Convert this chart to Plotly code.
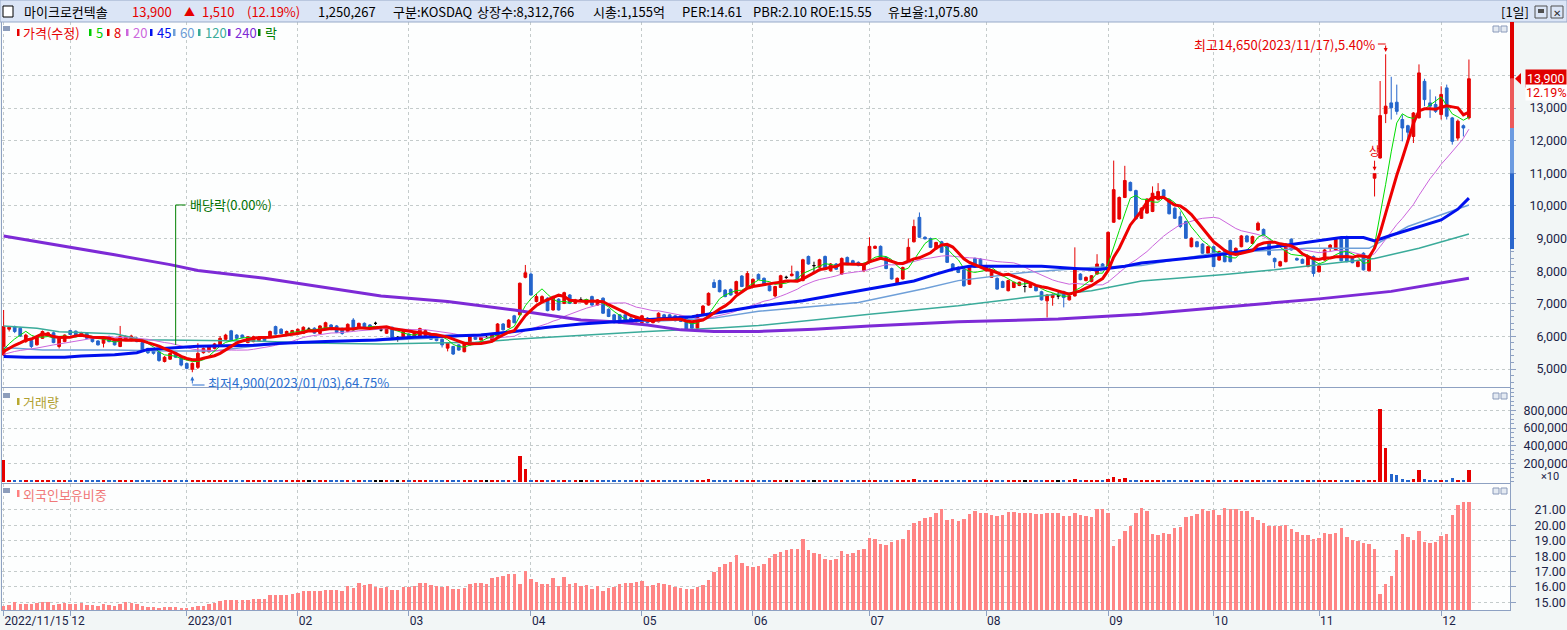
import pandas as pd
import plotly.graph_objects as go

W, H = 1567, 630
FONT = "Noto Sans CJK KR"
AXFONT = "Roboto"

# KRX trading days shown on the chart (holidays removed)
holidays = ["2022-12-30", "2023-01-23", "2023-01-24", "2023-03-01", "2023-05-01",
            "2023-05-05", "2023-05-29", "2023-06-06", "2023-08-15", "2023-09-28",
            "2023-09-29", "2023-10-02", "2023-10-03", "2023-10-09"]
days = [d for d in pd.bdate_range("2022-11-15", "2023-12-08")
        if d.strftime("%Y-%m-%d") not in holidays]

opens = [5430, 6220, 6300, 6250, 5840, 5870, 5740, 5940, 6040, 6110,
         5690, 5840, 6180, 6160, 6040, 6090, 5990, 5860, 5790, 5990,
         5890, 5690, 5890, 5870, 5940, 5810, 5630, 5610, 5530, 5230,
         5300, 5500, 5360, 5170, 4990, 5050, 5500, 5530, 5630, 5700,
         5910, 6170, 6040, 6040, 5810, 5840, 5870, 5990, 5990, 6300,
         6220, 6040, 6070, 6100, 6090, 6220, 6250, 6090, 6250, 6350,
         6320, 6250, 6150, 6500, 6280, 6400, 6350, 6400, 6200, 6095,
         6280, 5970, 5910, 6070, 6010, 6010, 6030, 6070, 5970, 5910,
         5640, 5690, 5740, 5530, 5740, 6010, 5890, 5970, 5890, 6010,
         6380, 6280, 6630, 6660, 7810, 7910, 7070, 7070, 7170, 6810,
         7140, 7010, 7270, 7010, 7120, 6990, 7220, 6960, 7170, 6830,
         6660, 6660, 6660, 6560, 6450, 6420, 6560, 6420, 6450, 6660,
         6660, 6630, 6630, 6560, 6420, 6250, 6660, 6960, 7650, 7710,
         7420, 7440, 7320, 7850, 7480, 7550, 7900, 7780, 7550, 7240,
         7500, 7810, 7860, 7980, 7710, 8450, 8170, 8120, 8450, 8010,
         8220, 7910, 8420, 8320, 8270, 8010, 8270, 8700, 8760, 8420,
         8080, 7600, 7760, 8320, 8900, 9650, 9040, 9000, 8680, 8900,
         8780, 8220, 8120, 8040, 7600, 8390, 8370, 8010, 7810, 7780,
         7680, 7400, 7500, 7560, 7530, 7500, 7530, 7370, 7090, 7190,
         7240, 7370, 7120, 7240, 7910, 7710, 7680, 7910, 8220, 8060,
         9500, 9600, 10260, 10720, 10470, 9620, 9780, 9830, 10190, 10490,
         10190, 9930, 9670, 9520, 8750, 8900, 8830, 8550, 8750, 8340,
         8600, 8940, 8550, 8750, 9080, 8850, 9260, 9280, 8900, 8390,
         8160, 8290, 8980, 8390, 8360, 8140, 8450, 7980, 8340, 8700,
         8650, 9010, 9060, 8390, 8140, 8550, 8010, 10850, 11470, 12830,
         13160, 13180, 12650, 12460, 12130, 12700, 13820, 13160, 13110, 12800,
         13620, 12700, 12080, 12460, 12700]

highs = [6810, 6300, 6330, 6290, 6080, 5900, 6020, 6180, 6140, 6150,
         5960, 6060, 6200, 6180, 6140, 6120, 6010, 5880, 6000, 6020,
         5920, 6320, 6030, 6050, 5980, 5830, 5650, 5630, 5550, 5400,
         5500, 5530, 5380, 5200, 5200, 5790, 5660, 5730, 5800, 6010,
         6080, 6200, 6070, 6060, 6010, 6020, 6000, 6010, 6180, 6330,
         6250, 6180, 6200, 6240, 6310, 6280, 6280, 6350, 6450, 6380,
         6350, 6270, 6400, 6560, 6420, 6430, 6380, 6450, 6260, 6280,
         6300, 6010, 6170, 6100, 6150, 6270, 6210, 6100, 6000, 5940,
         5810, 5710, 5760, 5810, 6070, 6040, 5990, 6010, 6060, 6410,
         6410, 6530, 6660, 7650, 8190, 7960, 7300, 7260, 7200, 7250,
         7170, 7370, 7300, 7150, 7200, 7140, 7250, 7140, 7200, 6860,
         6690, 6680, 6690, 6590, 6590, 6660, 6590, 6530, 6740, 6690,
         6690, 6660, 6650, 6590, 6440, 6690, 6960, 7350, 7750, 7740,
         7450, 7470, 7710, 7880, 8000, 7780, 7930, 7810, 7580, 7550,
         7890, 7860, 8170, 8010, 8380, 8480, 8290, 8380, 8480, 8250,
         8250, 8420, 8450, 8350, 8300, 8260, 9040, 8790, 8790, 8450,
         8110, 7810, 8140, 9000, 9580, 9800, 9070, 9030, 8900, 8930,
         8810, 8250, 8150, 8070, 8150, 8420, 8400, 8190, 8030, 7810,
         7710, 7740, 7680, 7680, 7710, 7630, 7560, 7400, 7300, 7320,
         7400, 7400, 7260, 8730, 7940, 7840, 7880, 8520, 8250, 9220,
         11390, 10290, 11230, 10750, 10500, 9960, 10240, 10600, 10700, 10520,
         10220, 9960, 9830, 9550, 9040, 8930, 8860, 8780, 8780, 8630,
         8630, 8970, 8730, 9110, 9110, 9090, 9520, 9310, 8930, 8420,
         8320, 8860, 9010, 8420, 8390, 8480, 8480, 8190, 8680, 8830,
         9010, 9060, 9090, 8420, 8320, 8580, 8500, 10990, 13830, 14650,
         13960, 13720, 12800, 12490, 12880, 14340, 13900, 13570, 13360, 13670,
         13720, 12730, 12650, 12500, 14490]

lows = [5400, 6150, 6100, 5980, 5800, 5640, 5720, 5920, 6020, 5790,
        5630, 5820, 6040, 6000, 6010, 5920, 5810, 5720, 5660, 5820,
        5720, 5670, 5870, 5850, 5820, 5540, 5460, 5440, 5220, 5200,
        5280, 5340, 5080, 4990, 4900, 5000, 5470, 5500, 5600, 5680,
        5890, 5870, 5920, 5940, 5790, 5820, 5850, 5850, 5970, 6050,
        6070, 6020, 6050, 6080, 6070, 6180, 6080, 6070, 6230, 6190,
        6100, 6050, 6130, 6180, 6260, 6250, 6220, 6350, 6150, 6080,
        5950, 5840, 5890, 5950, 5990, 5990, 6010, 5890, 5850, 5660,
        5540, 5430, 5560, 5510, 5720, 5890, 5870, 5930, 5870, 5990,
        6180, 6260, 6400, 6640, 7780, 7250, 7040, 7050, 6770, 6790,
        6790, 6990, 6990, 6990, 7080, 6970, 6940, 6940, 6690, 6590,
        6400, 6380, 6480, 6380, 6430, 6400, 6400, 6400, 6430, 6480,
        6480, 6460, 6440, 6180, 6230, 6230, 6640, 6940, 7480, 7350,
        7200, 7250, 7300, 7510, 7460, 7530, 7730, 7540, 7380, 7190,
        7480, 7760, 7840, 7690, 7690, 8200, 7960, 8100, 8040, 7990,
        8040, 7890, 8200, 8200, 8150, 7970, 8250, 8680, 8400, 8060,
        7740, 7580, 7740, 8300, 8880, 9020, 8970, 8710, 8660, 8560,
        8250, 8040, 7940, 7530, 7580, 8100, 8150, 7990, 7790, 7430,
        7480, 7380, 7480, 7540, 7350, 7480, 7380, 7100, 6580, 6940,
        7140, 6890, 7100, 7220, 7720, 7690, 7660, 7890, 8040, 8040,
        9480, 9580, 10240, 10450, 9580, 9600, 9760, 9810, 10170, 10270,
        9740, 9600, 9320, 8990, 8730, 8730, 8530, 8530, 8120, 8320,
        8270, 8270, 8530, 8730, 8880, 8830, 9240, 9090, 8480, 8090,
        8140, 8270, 8630, 8320, 8220, 8120, 7830, 7960, 8320, 8600,
        8630, 8300, 8270, 8240, 8120, 8020, 7990, 10290, 11450, 12540,
        12650, 12800, 11980, 11980, 11930, 12680, 13060, 12700, 12850, 12650,
        12650, 11880, 12000, 12130, 12650]

closes = [6300, 6280, 6150, 6010, 6040, 5690, 5990, 6150, 6110, 5810,
          5940, 6040, 6060, 6030, 6110, 5940, 5840, 5740, 5960, 5840,
          5740, 5990, 5990, 6010, 5840, 5560, 5500, 5480, 5260, 5360,
          5480, 5360, 5120, 5020, 5170, 5480, 5630, 5700, 5770, 5940,
          6040, 5890, 5940, 5960, 5990, 5990, 5970, 5870, 6150, 6070,
          6090, 6150, 6180, 6220, 6280, 6220, 6100, 6320, 6420, 6220,
          6120, 6090, 6370, 6200, 6400, 6270, 6250, 6400, 6200, 6250,
          5970, 5970, 6150, 5970, 6120, 6240, 6180, 5910, 5870, 5740,
          5790, 5460, 5580, 5790, 6040, 5910, 5970, 5970, 6040, 6380,
          6200, 6500, 6420, 7630, 7950, 7270, 7220, 7220, 6790, 7220,
          6810, 7340, 7010, 7120, 7120, 7120, 6960, 7120, 6710, 6610,
          6420, 6400, 6500, 6400, 6560, 6630, 6420, 6500, 6710, 6500,
          6500, 6480, 6460, 6220, 6250, 6660, 6930, 7320, 7500, 7370,
          7220, 7270, 7680, 7530, 7930, 7750, 7750, 7560, 7400, 7530,
          7860, 7810, 7910, 7710, 8350, 8220, 8170, 8350, 8060, 8220,
          8060, 8390, 8220, 8220, 8170, 8220, 8760, 8760, 8420, 8080,
          7760, 7780, 8110, 8730, 9370, 9040, 8990, 8730, 8880, 8580,
          8270, 8060, 7960, 7550, 8120, 8120, 8170, 8170, 8010, 7450,
          7500, 7710, 7660, 7660, 7530, 7600, 7400, 7120, 7270, 7290,
          7240, 7190, 7240, 8060, 7740, 7810, 7860, 8220, 8060, 9190,
          10500, 10260, 10780, 10470, 9600, 9930, 10210, 10390, 10440, 10290,
          9760, 9620, 9370, 9010, 9010, 8750, 8550, 8750, 8140, 8600,
          8290, 8290, 8700, 9080, 8900, 9060, 9470, 9110, 8500, 8290,
          8290, 8830, 8650, 8340, 8240, 8450, 7930, 8160, 8650, 8800,
          8980, 8320, 8290, 8260, 8290, 8040, 8460, 10990, 12770, 13060,
          13010, 12900, 12390, 12260, 12850, 14080, 13260, 13060, 12900, 13420,
          12750, 11980, 12600, 12390, 13900]

# closes before 2022/11/15, only used to start the short moving averages
prior_closes = [5300, 5350, 5400, 5380, 5420, 5450, 5400, 5380, 5350, 5400,
                5420, 5450, 5480, 5430, 5400, 5380, 5420, 5450, 5430]

# long moving averages (day index, value)
ma45_at = [0, 4, 11, 14, 20, 24, 26, 30, 35, 45, 50, 58, 67, 74, 86, 92, 98, 104, 110,
           116, 124, 128, 134, 136, 144, 152, 159, 164, 168, 171, 174, 187, 193, 197,
           202, 205, 217, 229, 235, 241, 245, 247, 250, 253, 259, 262, 264]
ma45 = [5380, 5360, 5360, 5400, 5440, 5500, 5600, 5650, 5700, 5730, 5790, 5840, 5890,
        5970, 6040, 6150, 6280, 6380, 6450, 6520, 6600, 6710, 6860, 6930, 7090, 7330,
        7550, 7700, 7910, 8060, 8150, 8150, 8080, 8040, 8150, 8250, 8460, 8750, 8900,
        9030, 9030, 8930, 9100, 9260, 9570, 9900, 10240]
ma60_at = [0, 7, 20, 30, 38, 45, 52, 60, 68, 80, 89, 95, 104, 110, 119, 128, 136, 154,
           166, 172, 184, 196, 205, 218, 235, 246, 253, 264]
ma60 = [5660, 5580, 5580, 5550, 5550, 5700, 5800, 5850, 5870, 5970, 6100, 6220, 6380,
        6450, 6480, 6560, 6770, 7040, 7470, 7710, 7960, 8110, 8170, 8550, 8700, 8700,
        9370, 10030]
ma120_at = [0, 6, 10, 20, 25, 35, 45, 55, 68, 75, 85, 92, 104, 116, 128, 136, 146, 156,
            172, 184, 196, 205, 220, 229, 247, 255, 264]
ma120 = [6320, 6250, 6140, 6080, 5900, 5880, 5860, 5800, 5770, 5790, 5820, 5910, 6040,
         6150, 6250, 6330, 6500, 6680, 6940, 7190, 7400, 7700, 7900, 8040, 8390, 8700,
         9140]
ma240_at = [0, 10, 20, 30, 35, 47, 59, 68, 80, 92, 104, 110, 116, 122, 128, 136, 146,
            156, 172, 190, 205, 220, 237, 250, 260, 264]
ma240 = [9080, 8800, 8500, 8200, 8020, 7780, 7470, 7240, 7070, 6810, 6500, 6450, 6350,
         6200, 6150, 6150, 6220, 6320, 6450, 6530, 6680, 6900, 7150, 7380, 7650, 7780]

# volume, axis is in units of 10 shares
volume = [247000, 14000, 12000, 9000, 8000, 9000, 8000, 10000, 7000, 9000,
          9000, 8000, 7000, 7000, 6000, 7000, 8000, 7000, 9000, 7000,
          7000, 16000, 8000, 7000, 6000, 9000, 8000, 7000, 10000, 8000,
          7000, 8000, 9000, 8000, 11000, 14000, 9000, 8000, 7000, 9000,
          9000, 8000, 6000, 6000, 7000, 6000, 6000, 6000, 8000, 9000,
          7000, 6000, 6000, 7000, 8000, 6000, 6000, 8000, 9000, 7000,
          7000, 6000, 8000, 9000, 7000, 6000, 6000, 6000, 6000, 7000,
          8000, 6000, 7000, 6000, 6000, 8000, 6000, 7000, 7000, 8000,
          8000, 9000, 7000, 8000, 11000, 7000, 6000, 6000, 7000, 12000,
          9000, 11000, 9000, 281000, 135000, 22000, 12000, 9000, 12000, 10000,
          9000, 11000, 8000, 7000, 6000, 6000, 8000, 7000, 10000, 9000,
          9000, 8000, 7000, 7000, 6000, 7000, 7000, 6000, 8000, 7000,
          6000, 6000, 6000, 9000, 8000, 14000, 18000, 24000, 20000, 13000,
          10000, 9000, 14000, 12000, 15000, 10000, 9000, 8000, 8000, 9000,
          11000, 8000, 10000, 8000, 14000, 10000, 8000, 9000, 10000, 8000,
          7000, 11000, 8000, 7000, 6000, 7000, 16000, 9000, 9000, 10000,
          11000, 8000, 10000, 17000, 24000, 22000, 10000, 9000, 8000, 9000,
          11000, 8000, 7000, 12000, 11000, 8000, 7000, 7000, 7000, 11000,
          8000, 9000, 7000, 6000, 6000, 6000, 7000, 9000, 12000, 8000,
          6000, 8000, 6000, 30000, 12000, 8000, 7000, 15000, 10000, 28000,
          52000, 24000, 34000, 22000, 20000, 12000, 12000, 14000, 11000, 9000,
          10000, 9000, 9000, 11000, 9000, 7000, 8000, 7000, 11000, 9000,
          8000, 10000, 8000, 12000, 8000, 8000, 14000, 9000, 10000, 9000,
          7000, 12000, 9000, 7000, 6000, 8000, 12000, 7000, 10000, 8000,
          10000, 11000, 10000, 6000, 6000, 9000, 12000, 16000, 817000, 374000,
          86000, 75000, 30000, 19000, 26000, 124000, 30000, 19000, 8000, 19000,
          19000, 41000, 19000, 12000, 125027]

foreign = [14.79, 14.83, 15.00, 14.90, 14.90, 14.90, 14.94, 15.00, 15.00, 14.83,
           14.90, 14.94, 14.90, 14.90, 14.94, 14.83, 14.83, 14.79, 14.87, 14.83,
           14.77, 14.90, 15.00, 14.94, 14.90, 14.77, 14.70, 14.70, 14.64, 14.70,
           14.70, 14.70, 14.64, 14.64, 14.68, 14.77, 14.77, 14.87, 14.94, 15.09,
           15.16, 15.16, 15.16, 15.16, 15.16, 15.22, 15.22, 15.22, 15.48, 15.48,
           15.48, 15.48, 15.55, 15.59, 15.74, 15.74, 15.74, 15.74, 15.78, 15.81,
           15.78, 15.74, 16.07, 15.96, 16.24, 16.13, 16.17, 15.98, 15.94, 15.98,
           15.81, 15.81, 15.98, 16.02, 16.07, 16.24, 16.24, 16.13, 16.07, 16.02,
           16.07, 15.87, 15.87, 15.96, 16.17, 16.24, 16.24, 16.17, 16.58, 16.67,
           16.74, 16.82, 16.82, 16.17, 17.04, 16.52, 16.30, 16.17, 16.17, 16.56,
           16.07, 16.63, 16.17, 16.24, 16.07, 16.13, 15.87, 16.09, 15.74, 15.91,
           15.98, 16.17, 16.24, 16.24, 16.33, 16.39, 16.07, 16.13, 16.24, 16.17,
           16.13, 16.02, 15.91, 15.87, 15.87, 15.98, 16.13, 16.46, 16.97, 17.28,
           17.49, 17.62, 18.06, 17.56, 17.36, 17.30, 17.36, 17.49, 17.88, 18.14,
           18.27, 18.38, 18.47, 18.47, 19.10, 18.38, 18.21, 18.14, 17.82, 17.75,
           17.82, 18.34, 18.14, 18.21, 18.40, 18.47, 19.18, 19.12, 18.79, 18.73,
           18.92, 19.05, 19.12, 19.70, 20.14, 20.29, 20.48, 20.55, 20.81, 21.07,
           20.35, 20.42, 20.29, 20.42, 20.74, 20.94, 20.81, 20.81, 20.68, 20.61,
           20.68, 20.87, 20.87, 20.81, 20.81, 20.81, 20.74, 20.74, 20.81, 20.81,
           20.81, 20.61, 20.61, 20.81, 20.68, 20.61, 20.55, 21.07, 21.07, 20.81,
           18.66, 19.12, 19.64, 19.96, 20.81, 21.13, 20.94, 19.44, 19.38, 19.51,
           19.44, 19.83, 19.90, 20.55, 20.61, 20.74, 21.07, 20.94, 21.00, 20.68,
           21.13, 21.07, 21.07, 20.94, 20.94, 20.55, 20.35, 20.16, 19.96, 19.96,
           19.96, 20.03, 19.77, 19.57, 19.38, 19.38, 19.12, 19.18, 19.51, 19.44,
           19.51, 19.83, 19.25, 19.05, 18.99, 18.86, 18.79, 18.47, 15.55, 16.19,
           16.71, 18.40, 19.44, 19.22, 19.05, 19.64, 18.94, 18.87, 18.94, 19.31,
           19.44, 20.68, 21.32, 21.52, 21.52]

n = len(days)
assert all(len(a) == n for a in (opens, highs, lows, closes, volume, foreign)), n
idx = list(range(n))

# month ticks for the x axis
month_ticks, month_labels = [], []
for i, d in enumerate(days):
    if i == 0:
        month_ticks.append(i)
        month_labels.append(d.strftime("%Y/%m/%d"))
    elif d.month != days[i - 1].month:
        month_ticks.append(i)
        month_labels.append(d.strftime("%Y/%m") if d.month == 1 else d.strftime("%m"))

UP, DOWN, FLAT = "#e60000", "#2465cc", "#000000"
GRID = "#c4cbcb"
FRAME = "#8ea1c2"
NAVY = "#1b2347"


def px(x):
    return x / W


def py(y):
    return 1 - y / H


def candles(ids, color):
    return go.Candlestick(
        x=ids, open=[opens[i] for i in ids], high=[highs[i] for i in ids],
        low=[lows[i] for i in ids], close=[closes[i] for i in ids],
        increasing=dict(line=dict(color=color, width=1), fillcolor=color),
        decreasing=dict(line=dict(color=color, width=1), fillcolor=color),
        whiskerwidth=0, showlegend=False, hoverinfo="skip", xaxis="x", yaxis="y")


up = [i for i in idx if closes[i] > opens[i]]
down = [i for i in idx if closes[i] < opens[i]]
flat = [i for i in idx if closes[i] == opens[i]]

fig = go.Figure()
fig.add_trace(candles(up, UP))
fig.add_trace(candles(down, DOWN))
fig.add_trace(candles(flat, FLAT))

# short moving averages from the closes
s = pd.Series(prior_closes + closes)
k = len(prior_closes)
ma5 = s.rolling(5).mean().iloc[k:].tolist()
ma8 = s.rolling(8).mean().iloc[k:].tolist()
ma20 = s.rolling(20).mean().iloc[k:].tolist()


def line(xs, ys, color, width):
    fig.add_trace(go.Scatter(x=xs, y=ys, mode="lines", line=dict(color=color, width=width),
                             showlegend=False, hoverinfo="skip", xaxis="x", yaxis="y"))


line(ma120_at, ma120, "#3aab9a", 1.5)
line(ma60_at, ma60, "#6e9fd8", 1.5)
line(idx, ma20, "#cc66dd", 1)
line(idx, ma5, "#00dd00", 1)
line(ma240_at, ma240, "#7d2ad6", 3)
line(ma45_at, ma45, "#0010ee", 3)
line(idx, ma8, "#ee0000", 3)

bar_colors = [UP if closes[i] > opens[i] else DOWN if closes[i] < opens[i] else FLAT for i in idx]
fig.add_trace(go.Bar(x=idx, y=volume, width=0.62, marker=dict(color=bar_colors, line_width=0),
                     showlegend=False, hoverinfo="skip", xaxis="x2", yaxis="y2"))
fig.add_trace(go.Bar(x=idx, y=foreign, width=0.62, marker=dict(color="#ff8585", line_width=0),
                     showlegend=False, hoverinfo="skip", xaxis="x3", yaxis="y3"))

xdom = [px(2), px(1510)]
xcommon = dict(domain=xdom, range=[-0.29, 271.4], tickvals=month_ticks, showgrid=True,
               gridcolor=GRID, griddash="dot", zeroline=False, showline=True, mirror=True,
               linecolor=FRAME)
ycommon = dict(side="right", showline=True, mirror=True, linecolor=FRAME, showgrid=True,
               gridcolor=GRID, griddash="dot", zeroline=False, ticks="outside", ticklen=5,
               tickcolor=FRAME, tickfont=dict(family=AXFONT, size=12.5, color=NAVY))

price_ticks = list(range(5000, 15000, 1000))
price_text = ["" if v == 14000 else f"{v:,}".rjust(6, "\u2007") for v in price_ticks]
vol_ticks = [200000, 400000, 600000, 800000]
fr_ticks = [15, 16, 17, 18, 19, 20, 21]

fig.update_layout(
    width=W, height=H, margin=dict(l=0, r=0, t=0, b=0),
    paper_bgcolor="#f2f6f6", plot_bgcolor="#fdfefe",
    font=dict(family=FONT, size=13, color=NAVY),
    boxmode="overlay", boxgap=0.3, bargap=0,
    xaxis=dict(xcommon, anchor="y", showticklabels=False, ticks="", rangeslider=dict(visible=False)),
    xaxis2=dict(xcommon, anchor="y2", matches="x", showticklabels=False, ticks=""),
    xaxis3=dict(xcommon, anchor="y3", matches="x", ticktext=month_labels, ticks="outside",
                ticklen=5, tickcolor=FRAME, ticklabelposition="outside right",
                tickfont=dict(family=AXFONT, size=12, color=NAVY)),
    yaxis=dict(ycommon, domain=[py(387), py(22)], range=[4448, 15640], anchor="x",
               tickvals=price_ticks, ticktext=price_text, ticklabelstandoff=11,
               minor=dict(tickmode="linear", tick0=0, dtick=200, ticks="outside", ticklen=3,
                          tickcolor=FRAME, showgrid=False)),
    yaxis2=dict(ycommon, domain=[py(483), py(388)], range=[-16850, 1050550], anchor="x2",
                tickvals=vol_ticks, ticktext=[f"{v:,}" for v in vol_ticks], ticklabelstandoff=5,
                minor=dict(tickmode="linear", tick0=0, dtick=50000, ticks="outside", ticklen=3,
                           tickcolor=FRAME, showgrid=False)),
    yaxis3=dict(ycommon, domain=[py(610), py(484)], range=[14.506, 22.688], anchor="x3",
                tickvals=fr_ticks, ticktext=[f"{v:.2f}" for v in fr_ticks], ticklabelstandoff=16),
)

shapes = []
ann = []


def rect(x0, y0, x1, y1, fill, line_color=None):
    shapes.append(dict(type="rect", xref="paper", yref="paper", x0=px(x0), x1=px(x1),
                       y0=py(y1), y1=py(y0), fillcolor=fill, layer="above",
                       line=dict(width=1 if line_color else 0, color=line_color or fill)))


def text(x, y, s, color, size=13, anchor="left", family=FONT):
    ann.append(dict(xref="paper", yref="paper", x=px(x), y=py(y), text=s, showarrow=False,
                    xanchor=anchor, yanchor="middle", font=dict(family=family, size=size, color=color)))


# header bar
rect(0, 0, W, 22, "#dbe5f6", "#97a9c8")
rect(3, 6, 13, 17, "#ffffff", "#000000")
text(22, 11, "마이크로컨텍솔", "#000000")
text(130, 11, "13,900", UP)
text(182, 11, "▲", UP, size=11)
text(200, 11, "1,510", UP)
text(245, 11, "(12.19%)", UP)
for x, s in [(316, "1,250,267"), (391, "구분:KOSDAQ"), (475, "상장수:8,312,766"),
             (591, "시총:1,155억"), (680, "PER:14.61"), (751, "PBR:2.10"),
             (808, "ROE:15.55"), (886, "유보율:1,075.80"), (1499, "[1일]")]:
    text(x, 11, s, "#000000")
rect(1535, 6, 1547, 18, "#dbe5f6", "#505050")
rect(1538, 9, 1544, 13, "#505050")
rect(1551, 6, 1563, 18, "#dbe5f6", "#505050")
text(1557, 12, "✕", "#303030", size=10, anchor="center")

# panel icons, titles and buttons
for y in (26, 393, 488):
    rect(3, y, 10, y + 5, "#8d9dbb")
    rect(1493, y, 1499, y + 6, "#e4eaf2", "#8a9aba")
    rect(1501, y, 1507, y + 6, "#e4eaf2", "#8a9aba")

legend = [(17, 21, "가격(수정)", "#e60000"), (89, 94, "5", "#00cc00"), (107, 112, "8", "#e60000"),
          (126, 131, "20", "#cc66dd"), (150, 155, "45", "#0010ee"), (173, 178, "60", "#6e9fd8"),
          (198, 203, "120", "#3aab9a"), (228, 233, "240", "#7d2ad6"), (258, 263, "락", "#008000")]
for mx, tx, s, c in legend:
    rect(mx, 29, mx + 2.5, 36, c)
    text(tx, 32, s, c)
rect(17, 398, 19.5, 405, "#b8a830")
text(21, 402, "거래량", "#b0a030")
rect(17, 490, 19.5, 497, "#ff8080")
text(21, 494, "외국인보유비중", "#f07878")
text(1550, 476.5, "×10", NAVY, size=11, anchor="center", family=AXFONT)

# daily price-limit band on the price axis
for y0, y1, c in [(13900, 15640, "#e00000"), (12390, 13900, "#ec5a5a"),
                  (11000, 12390, "#6c9be0"), (8680, 11000, "#2a66cc")]:
    shapes.append(dict(type="rect", xref="paper", yref="y", x0=px(1510), x1=px(1514),
                       y0=y0, y1=y1, fillcolor=c, line_width=0, layer="above"))

# current price tag
shapes.append(dict(type="path", xref="paper", yref="y", fillcolor=UP, line_width=0,
                   path=f"M {px(1515)},13900 L {px(1521)},14080 L {px(1521)},13720 Z"))
ann.append(dict(xref="paper", yref="y", x=px(1546), y=13900, text="13,900", showarrow=False,
                xanchor="center", bgcolor="#e00000", borderpad=1,
                font=dict(family=AXFONT, size=12.5, color="#ffffff")))
ann.append(dict(xref="paper", yref="y", x=px(1546), y=13900, yshift=-14, text="12.19%",
                showarrow=False, xanchor="center", bgcolor="#ffffff", borderpad=0,
                font=dict(family=AXFONT, size=12.5, color=UP)))

# ex-dividend marker
ex_i = 31
shapes.append(dict(type="line", xref="x", yref="y", x0=ex_i, x1=ex_i, y0=5740, y1=10030,
                   line=dict(color="#008000", width=1)))
shapes.append(dict(type="line", xref="x", yref="y", x0=ex_i, x1=ex_i + 1.8, y0=10030, y1=10030,
                   line=dict(color="#008000", width=1)))
ann.append(dict(xref="x", yref="y", x=ex_i + 2.3, y=10030, text="배당락(0.00%)", showarrow=False,
                xanchor="left", font=dict(family=FONT, size=13, color="#007000")))

# high / low markers
hi_i = highs.index(max(highs))
lo_i = lows.index(min(lows))
shapes.append(dict(type="line", xref="x", yref="y", x0=hi_i - 1.4, x1=hi_i, y0=14965, y1=14965,
                   line=dict(color=UP, width=1)))
ann.append(dict(xref="x", yref="y", x=hi_i, y=14720, ax=hi_i, ay=14965, axref="x", ayref="y",
                text="", showarrow=True, arrowhead=2, arrowsize=0.8, arrowwidth=1, arrowcolor=UP))
ann.append(dict(xref="x", yref="y", x=hi_i - 1.5, y=14965, showarrow=False, xanchor="right",
                text=f"최고{max(highs):,}({days[hi_i].strftime('%Y/%m/%d')}),5.40%",
                font=dict(family=FONT, size=13, color=UP)))
LOW_C = "#2b6fd0"
shapes.append(dict(type="line", xref="x", yref="y", x0=lo_i, x1=lo_i + 2.2, y0=4509, y1=4509,
                   line=dict(color=LOW_C, width=1)))
ann.append(dict(xref="x", yref="y", x=lo_i, y=4770, ax=lo_i, ay=4509, axref="x", ayref="y",
                text="", showarrow=True, arrowhead=2, arrowsize=0.8, arrowwidth=1, arrowcolor=LOW_C))
ann.append(dict(xref="x", yref="y", x=lo_i + 2.5, y=4600, showarrow=False, xanchor="left",
                text=f"최저{min(lows):,}({days[lo_i].strftime('%Y/%m/%d')}),64.75%",
                font=dict(family=FONT, size=13, color=LOW_C)))

# upper-limit day
ann.append(dict(xref="x", yref="y", x=247, y=11080, text="상", showarrow=True, ax=0, ay=-20,
                arrowhead=2, arrowsize=0.8, arrowwidth=1, arrowcolor=UP,
                font=dict(family=FONT, size=12, color=UP)))

fig.update_layout(shapes=shapes, annotations=ann)
fig.write_html("out.html", config={"displayModeBar": False},
               post_script="document.body.style.margin='0px';")
